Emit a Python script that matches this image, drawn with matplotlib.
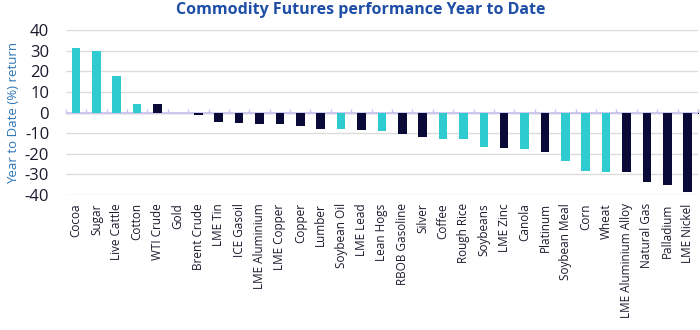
import matplotlib
matplotlib.use("Agg")
import matplotlib.pyplot as plt
import numpy as np

categories = ["Cocoa", "Sugar", "Live Cattle", "Cotton", "WTI Crude", "Gold", "Brent Crude",
              "LME Tin", "ICE Gasoil", "LME Aluminium", "LME Copper", "Copper", "Lumber",
              "Soybean Oil", "LME Lead", "Lean Hogs", "RBOB Gasoline", "Silver", "Coffee",
              "Rough Rice", "Soybeans", "LME Zinc", "Canola", "Platinum", "Soybean Meal",
              "Corn", "Wheat", "LME Aluminium Alloy", "Natural Gas", "Palladium", "LME Nickel"]
values = [31.1, 29.6, 17.8, 4.0, 3.9, -0.2, -1.0,
          -4.4, -4.9, -5.7, -5.7, -6.5, -7.8,
          -8.1, -8.4, -8.9, -10.5, -11.7, -13.0,
          -13.0, -16.7, -17.3, -17.7, -19.1, -23.3,
          -28.5, -28.8, -28.8, -33.7, -35.3, -38.3]
# group: 'soft' = agricultural/livestock (teal), 'hard' = energy/metals (navy)
groups = ["soft", "soft", "soft", "soft", "hard", "hard", "hard",
          "hard", "hard", "hard", "hard", "hard", "hard",
          "soft", "hard", "soft", "hard", "hard", "soft",
          "soft", "soft", "hard", "soft", "hard", "soft",
          "soft", "soft", "hard", "hard", "hard", "hard"]
yticks = [40, 30, 20, 10, 0, -10, -20, -30, -40]

colors = {"soft": "#2ECBD1", "hard": "#0A0A38"}
plt.rcParams['font.family'] = ['Open Sans', 'DejaVu Sans']

fig = plt.figure(figsize=(7, 3.3), dpi=100)
ax = fig.add_axes([0.094, 0.409, 0.903, 0.500])
x = np.arange(len(categories))
ax.bar(x, values, width=0.42, color=[colors[g] for g in groups], zorder=3)
ax.set_xlim(-0.5, len(categories) - 0.5)
ax.set_ylim(-40, 40)
ax.set_yticks(yticks)
ax.set_yticklabels([str(v) for v in yticks], fontsize=12, color="#1a1a2e")
ax.set_xticks(x)
ax.set_xticklabels(categories, rotation=90, fontsize=8.5, color="#1a1a2e")
ax.tick_params(axis='x', length=0, pad=6)
ax.tick_params(axis='y', length=0, pad=12)
for s in ax.spines.values():
    s.set_visible(False)
ax.grid(axis='y', color="#dcdcdc", linewidth=1, zorder=0)
ax.axhline(0, color="#c9c2f0", linewidth=1.2, zorder=2)
# small ticks along the zero line at category boundaries
sec = ax.secondary_xaxis(0.5)
sec.set_xticks(np.arange(-0.5, len(categories), 1.0))
sec.set_xticklabels([])
sec.tick_params(axis='x', direction='out', length=3, color="#c9c2f0", width=1)
sec.spines['bottom'].set_visible(False)
ax.set_ylabel("Year to Date (%) return", color="#2E75B6", fontsize=9.5, labelpad=3)
fig.suptitle("Commodity Futures performance Year to Date", x=0.515, y=0.995,
             fontsize=11.5, fontweight='bold', color="#1F4EA6")
fig.savefig("out.png", dpi=100)
